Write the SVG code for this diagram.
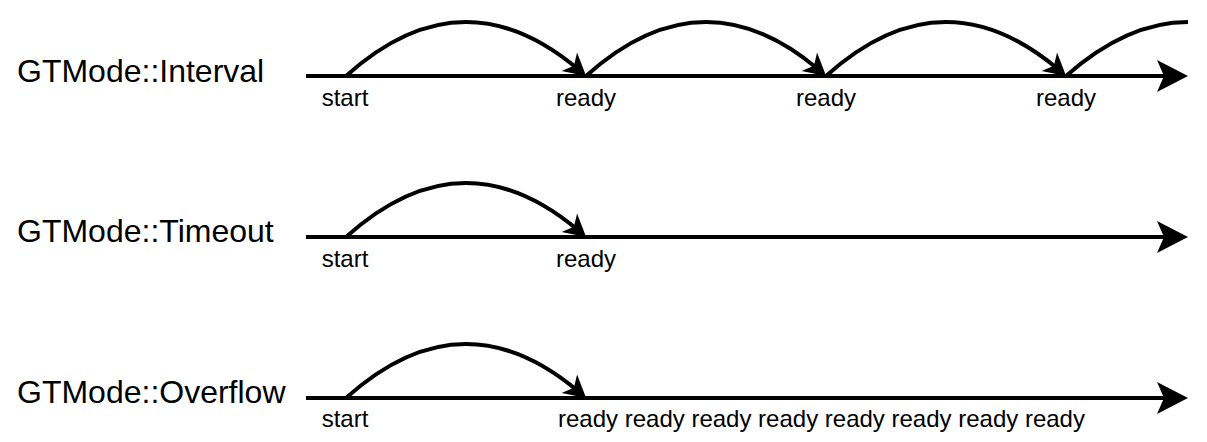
<svg xmlns="http://www.w3.org/2000/svg" width="1207" height="442" viewBox="0 0 1207 442">
  <style>
    .title { font-family: "Liberation Sans", Arial, sans-serif; font-size: 32px; fill: #000; }
    .lbl { font-family: "Liberation Sans", Arial, sans-serif; font-size: 24px; fill: #000; }
    .mid { text-anchor: middle; }
    .axis { stroke: #000; stroke-width: 4; fill: none; marker-end: url(#bigArrow); }
    .arc { stroke: #000; stroke-width: 4; fill: none; marker-end: url(#smallArrow); }
    .arcOpen { stroke: #000; stroke-width: 4; fill: none; }
  </style>
  <defs>
    <marker id="bigArrow" markerUnits="userSpaceOnUse" viewBox="-16 -18 36 36" refX="0" refY="0" markerWidth="36" markerHeight="36" orient="auto" overflow="visible">
      <path d="M18,0 L-13,-16 L-6,0 L-13,16 Z" fill="#000"/>
    </marker>
    <marker id="smallArrow" markerUnits="userSpaceOnUse" viewBox="-14 -14 28 28" refX="0" refY="0" markerWidth="28" markerHeight="28" orient="auto" overflow="visible">
      <path d="M10,0 L-12,-12 L-6,0 L-12,12 Z" fill="#000"/>
    </marker>
  </defs>
  <rect width="1207" height="442" fill="#fff"/>

  <g id="connectors">
    <line class="axis" x1="306" y1="76" x2="1170" y2="76"/>
    <path class="arc" d="m346 76 q116.3 -104.7 232.5 -6.5"/>
    <path class="arc" d="m586 76 q116.3 -104.7 232.5 -6.5"/>
    <path class="arc" d="m826 76 q116.3 -104.7 232.5 -6.5"/>
    <path class="arcOpen" d="M1066 76 Q1127 22 1188 22"/>

    <line class="axis" x1="306" y1="237" x2="1170" y2="237"/>
    <path class="arc" d="m346 237 q116.3 -104.7 232.5 -6.5"/>

    <line class="axis" x1="306" y1="398" x2="1170" y2="398"/>
    <path class="arc" d="m346 398 q116.3 -104.7 232.5 -6.5"/>
  </g>

  <g id="title-interval"><text class="title" x="17" y="82">GTMode::Interval</text></g>
  <g id="title-timeout"><text class="title" x="17" y="242">GTMode::Timeout</text></g>
  <g id="title-overflow"><text class="title" x="17" y="403">GTMode::Overflow</text></g>

  <g id="row1-start"><text class="lbl mid" x="345" y="106">start</text></g>
  <g id="row1-ready1"><text class="lbl mid" x="586" y="106">ready</text></g>
  <g id="row1-ready2"><text class="lbl mid" x="826" y="106">ready</text></g>
  <g id="row1-ready3"><text class="lbl mid" x="1066" y="106">ready</text></g>

  <g id="row2-start"><text class="lbl mid" x="345" y="267">start</text></g>
  <g id="row2-ready"><text class="lbl mid" x="586" y="267">ready</text></g>

  <g id="row3-start"><text class="lbl mid" x="345" y="427">start</text></g>
  <g id="row3-ready"><text class="lbl" x="558" y="427">ready ready ready ready ready ready ready ready</text></g>
</svg>
